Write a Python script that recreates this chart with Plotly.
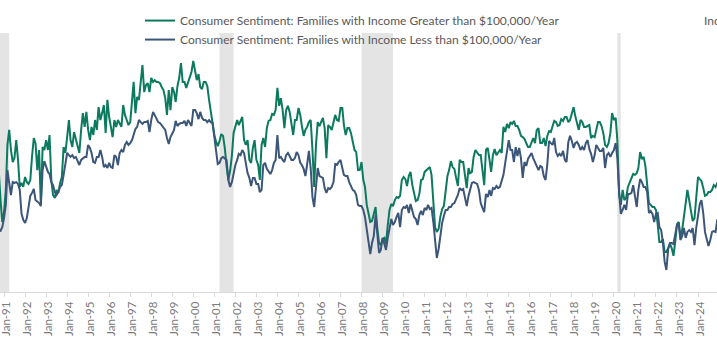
import pandas as pd
import plotly.graph_objects as go

# Monthly index values, July 1990 onward (one row per calendar year)
start_month = "1990-07-01"

income_over_100k = [
    93.3, 90.0, 86.7, 83.3, 73.3, 66.0,                                   # 1990 (Jul-Dec)
    69.3, 76.7, 91.7, 96.7, 90.0, 86.0, 87.3, 93.3, 86.7, 77.7, 79.0, 77.7,   # 1991
    81.0, 79.3, 78.7, 80.0, 87.7, 94.0, 92.3, 83.3, 90.0, 71.7, 91.0, 90.0,   # 1992
    93.3, 90.0, 95.0, 80.0, 75.0, 74.0, 76.7, 75.7, 79.0, 81.0, 91.0, 89.0,   # 1993
    94.3, 100.0, 93.3, 91.0, 96.0, 93.3, 91.7, 89.0, 96.7, 102.3, 97.7, 102.7,  # 1994
    96.7, 93.3, 97.7, 95.0, 100.0, 96.7, 104.3, 100.0, 102.3, 105.0, 95.7, 106.7,  # 1995
    101.0, 97.7, 94.3, 100.0, 97.7, 100.0, 99.0, 97.7, 105.0, 101.7, 100.0, 98.3,  # 1996
    99.3, 108.3, 112.7, 102.3, 107.7, 106.7, 111.7, 118.3, 109.3, 111.7, 112.3, 109.3,  # 1997
    114.0, 112.7, 113.3, 112.7, 112.7, 112.3, 111.0, 110.0, 107.3, 101.7, 110.0, 103.3,  # 1998
    111.0, 109.3, 106.0, 111.3, 114.0, 119.0, 112.7, 112.7, 110.7, 112.7, 114.0, 116.0,  # 1999
    119.7, 116.7, 113.3, 115.3, 111.0, 110.3, 112.7, 112.7, 111.3, 106.7, 102.7, 98.3,  # 2000
    95.0, 92.7, 91.3, 93.0, 95.3, 94.7, 90.7, 84.7, 80.0, 83.0, 88.0, 95.7,   # 2001
    97.7, 100.0, 98.3, 100.0, 101.0, 93.3, 91.7, 93.3, 86.7, 85.7, 90.7, 93.3,  # 2002
    86.7, 85.0, 80.0, 91.7, 94.0, 91.0, 97.3, 99.7, 100.0, 102.0, 101.7, 103.3,  # 2003
    110.7, 104.7, 107.3, 103.3, 97.3, 103.3, 104.7, 102.7, 98.3, 95.0, 100.0, 100.0,  # 2004
    104.0, 101.7, 98.0, 94.7, 96.7, 97.7, 99.3, 100.0, 90.0, 77.7, 91.7, 99.3,  # 2005
    98.0, 99.3, 100.7, 97.3, 87.3, 98.3, 97.7, 96.7, 99.3, 101.7, 100.0, 99.7,  # 2006
    104.0, 104.0, 98.3, 95.0, 97.3, 97.3, 95.7, 92.3, 90.0, 89.3, 83.3, 83.3,  # 2007
    86.0, 80.0, 77.7, 71.7, 68.3, 66.0, 66.3, 69.0, 71.0, 64.0, 59.0, 58.3,   # 2008
    60.3, 60.7, 58.7, 65.0, 70.0, 72.0, 71.3, 73.3, 74.3, 74.0, 74.7, 80.0,   # 2009
    81.0, 80.3, 78.0, 81.3, 82.7, 78.3, 75.7, 73.0, 73.3, 75.3, 80.0, 80.3,   # 2010
    82.7, 83.3, 84.0, 84.3, 81.7, 74.0, 64.3, 62.7, 63.7, 67.7, 70.3, 71.3,   # 2011
    77.3, 81.3, 83.3, 86.3, 84.3, 83.7, 80.7, 78.0, 86.7, 86.0, 86.0, 80.7,   # 2012
    77.3, 84.0, 82.3, 82.7, 87.7, 90.0, 89.3, 88.3, 88.3, 83.3, 78.3, 90.0,   # 2013
    90.7, 86.7, 82.7, 88.3, 90.3, 88.3, 89.0, 90.0, 89.0, 97.7, 96.0, 98.7,   # 2014
    97.3, 99.3, 98.7, 99.7, 98.0, 98.0, 96.7, 94.7, 94.3, 93.7, 92.3, 91.0,   # 2015
    91.0, 93.0, 94.0, 92.3, 96.7, 97.3, 92.3, 92.3, 94.0, 91.3, 94.7, 96.3,   # 2016
    96.0, 98.0, 99.7, 99.3, 98.0, 98.3, 100.3, 99.7, 101.0, 101.0, 99.3, 100.0,  # 2017
    102.3, 104.3, 101.3, 99.3, 96.7, 100.0, 99.3, 97.7, 97.7, 98.0, 98.3, 94.0,  # 2018
    94.7, 94.3, 96.7, 99.3, 99.3, 98.0, 95.7, 91.7, 91.0, 92.3, 95.7, 102.3,  # 2019
    100.0, 100.7, 93.3, 75.0, 71.7, 76.7, 73.3, 74.0, 77.7, 79.3, 80.3, 82.0,  # 2020
    81.7, 82.3, 84.0, 89.3, 87.0, 87.7, 84.7, 77.7, 72.3, 71.7, 71.0, 71.0,   # 2021
    70.0, 65.0, 59.3, 59.3, 60.3, 56.0, 56.0, 57.3, 58.7, 57.3, 54.7, 59.3,   # 2022
    65.3, 66.0, 61.0, 63.3, 67.7, 70.7, 76.7, 73.3, 70.3, 66.3, 67.3, 75.0,   # 2023
    81.0, 80.3, 79.7, 77.3, 74.7, 75.0, 76.0, 76.0, 76.7, 78.3, 77.7, 79.0,   # 2024
    79.0,                                                                 # 2025 (Jan)
]

income_under_100k = [
    76.7, 71.7, 66.7, 63.3, 63.0, 64.3,                                   # 1990 (Jul-Dec)
    67.3, 71.7, 83.3, 78.3, 75.0, 79.3, 79.0, 79.3, 78.7, 76.7, 68.7, 66.7,   # 1991
    65.7, 67.3, 71.7, 74.7, 75.7, 77.0, 73.3, 72.7, 72.3, 71.3, 83.3, 86.3,   # 1992
    84.7, 82.7, 82.0, 79.3, 78.3, 76.0, 75.0, 76.0, 77.7, 78.3, 81.7, 85.7,   # 1993
    89.0, 88.3, 87.7, 88.3, 87.3, 87.7, 86.0, 85.0, 86.7, 87.3, 87.7, 87.7,   # 1994
    91.7, 90.7, 89.0, 86.0, 85.7, 87.7, 87.7, 90.0, 87.7, 84.3, 85.0, 84.0,   # 1995
    85.7, 84.3, 84.0, 88.3, 87.7, 85.0, 89.0, 90.0, 89.3, 91.7, 92.7, 91.7,   # 1996
    92.3, 93.3, 95.3, 97.0, 97.7, 100.0, 99.3, 98.7, 99.3, 99.3, 99.7, 96.0,  # 1997
    100.0, 102.7, 101.7, 100.7, 99.3, 99.0, 98.3, 97.7, 96.7, 94.0, 92.0, 94.3,  # 1998
    95.3, 96.7, 99.7, 98.0, 98.7, 99.0, 99.0, 99.7, 98.0, 100.0, 99.0, 98.0,  # 1999
    103.3, 103.3, 102.3, 100.3, 102.7, 100.7, 100.0, 100.0, 99.3, 100.0, 99.3, 99.0,  # 2000
    94.3, 88.3, 85.3, 85.7, 87.3, 87.7, 87.3, 86.7, 80.0, 77.7, 79.3, 82.7,   # 2001
    85.0, 86.7, 88.7, 88.3, 90.0, 89.0, 85.7, 82.3, 80.7, 78.0, 80.7, 80.7,   # 2002
    78.7, 78.7, 76.0, 76.7, 85.0, 85.7, 83.7, 82.7, 82.0, 83.3, 85.7, 86.7,   # 2003
    95.0, 87.3, 87.7, 86.7, 86.0, 88.3, 89.0, 88.0, 86.7, 86.7, 87.3, 89.3,   # 2004
    88.3, 85.7, 85.0, 83.7, 81.3, 85.3, 89.7, 84.0, 74.3, 71.0, 78.3, 84.0,   # 2005
    81.3, 81.0, 80.7, 77.3, 75.7, 77.3, 77.0, 77.7, 79.3, 85.3, 85.0, 86.0,   # 2006
    86.7, 84.0, 81.7, 81.3, 81.3, 79.3, 78.0, 76.7, 76.3, 75.0, 71.7, 71.3,   # 2007
    71.3, 70.0, 67.7, 63.3, 59.0, 55.3, 59.0, 61.3, 68.3, 62.7, 55.7, 56.7,   # 2008
    60.7, 58.7, 56.7, 60.7, 64.0, 67.0, 65.0, 66.0, 67.7, 69.0, 64.3, 70.0,   # 2009
    71.0, 70.7, 71.7, 69.0, 72.0, 70.0, 67.7, 67.0, 65.0, 68.3, 69.7, 68.3,   # 2010
    70.7, 70.0, 71.7, 70.3, 70.7, 66.0, 60.0, 54.0, 57.0, 61.7, 65.7, 68.0,   # 2011
    70.0, 70.0, 71.0, 71.0, 72.0, 72.3, 73.7, 75.0, 77.3, 76.7, 77.0, 74.7,   # 2012
    71.3, 74.7, 76.7, 79.0, 79.3, 79.0, 78.7, 76.7, 72.3, 70.7, 69.3, 75.3,   # 2013
    74.3, 76.7, 74.7, 77.3, 77.0, 78.0, 77.3, 77.7, 79.7, 81.7, 85.7, 89.3,   # 2014
    93.3, 90.0, 90.0, 86.0, 91.0, 88.0, 90.7, 87.3, 80.7, 86.0, 84.7, 87.0,   # 2015
    88.0, 89.0, 87.3, 86.0, 84.7, 83.3, 84.7, 84.3, 81.3, 80.0, 85.3, 93.0,   # 2016
    92.3, 91.7, 94.0, 89.3, 88.0, 88.7, 88.0, 89.7, 86.7, 86.0, 92.7, 94.7,   # 2017
    93.0, 90.7, 92.3, 92.7, 91.7, 90.0, 91.0, 90.0, 92.3, 93.3, 90.3, 88.7,   # 2018
    86.0, 88.3, 91.7, 90.7, 89.7, 89.7, 90.7, 84.0, 88.3, 89.0, 87.7, 89.0,   # 2019
    90.0, 92.3, 87.3, 76.0, 68.7, 70.0, 71.7, 70.0, 75.3, 75.3, 75.7, 78.3,   # 2020
    74.0, 71.0, 76.7, 80.3, 79.3, 77.7, 77.7, 76.0, 69.0, 69.7, 68.7, 66.0,   # 2021
    68.7, 69.0, 64.3, 63.3, 59.3, 52.7, 50.0, 57.0, 59.0, 59.0, 58.7, 62.3,   # 2022
    65.0, 65.3, 60.0, 61.3, 64.0, 60.7, 62.7, 63.3, 62.7, 64.0, 58.3, 64.0,   # 2023
    68.7, 72.0, 73.3, 69.0, 62.7, 59.7, 58.0, 60.0, 62.7, 63.0, 62.7, 66.7,   # 2024
    67.3,                                                                 # 2025 (Jan)
]

series_names = [
    "Consumer Sentiment: Families with Income Greater than $100,000/Year",
    "Consumer Sentiment: Families with Income Less than $100,000/Year",
]

recession_starts = ["1990-08-01", "2001-04-01", "2008-01-01", "2020-03-01"]
recession_ends = ["1991-04-01", "2001-12-01", "2009-07-01", "2020-04-28"]

tick_years = list(range(1991, 2026))
tick_labels = ["Jan-%02d" % (y % 100) for y in tick_years]

assert len(income_over_100k) == len(income_under_100k)
dates = pd.date_range(start_month, periods=len(income_over_100k), freq="MS")

GREEN = "#0B7A5E"
BLUE = "#3B5678"
FONT = "Lato, 'Open Sans', sans-serif"

fig = go.Figure()
fig.add_trace(go.Scatter(x=dates, y=income_over_100k, mode="lines",
                         name=series_names[0],
                         line=dict(color=GREEN, width=2)))
fig.add_trace(go.Scatter(x=dates, y=income_under_100k, mode="lines",
                         name=series_names[1],
                         line=dict(color=BLUE, width=2)))

for s, e in zip(recession_starts, recession_ends):
    fig.add_shape(type="rect", xref="x", yref="paper", x0=s, x1=e, y0=0, y1=1,
                  fillcolor="#E4E4E4", line=dict(width=0), layer="below")

fig.add_annotation(text="Index", xref="paper", yref="paper", x=702 / 717, y=1.05,
                   xanchor="left", yanchor="middle", showarrow=False,
                   font=dict(family=FONT, size=12, color="#595959"))

fig.update_layout(
    width=717, height=355,
    margin=dict(l=0, r=0, t=33, b=63, autoexpand=False),
    paper_bgcolor="white", plot_bgcolor="white",
    font=dict(family=FONT, color="#595959"),
    showlegend=True,
    legend=dict(x=140 / 717, y=1.104, xanchor="left", yanchor="top",
                orientation="v", bgcolor="rgba(0,0,0,0)",
                font=dict(family=FONT, size=12, color="#595959"),
                tracegroupgap=0, itemwidth=30),
    xaxis=dict(type="date", range=["1990-10-23", "2024-11-26"],
               automargin=False, ticklabeloverflow="allow",
               ticklabelshift=2,
               tickmode="array",
               tickvals=[pd.Timestamp(year=y, month=1, day=1) for y in tick_years],
               ticktext=tick_labels, tickangle=-90,
               tickfont=dict(family=FONT, size=11.5, color="#7A7A7A"),
               showgrid=False, zeroline=False,
               showline=True, linecolor="#D9D9D9", linewidth=1,
               ticks="outside", ticklen=4, tickcolor="#D9D9D9"),
    yaxis=dict(range=[140 - 292 / 3, 140 - 33 / 3], visible=False,
               automargin=False, showgrid=False, zeroline=False),
)

fig.write_html(
    "out.html",
    config={"displayModeBar": False},
    post_script="document.body.style.margin='0px';document.body.style.padding='0px';"
                "document.documentElement.style.overflow='hidden';",
)
